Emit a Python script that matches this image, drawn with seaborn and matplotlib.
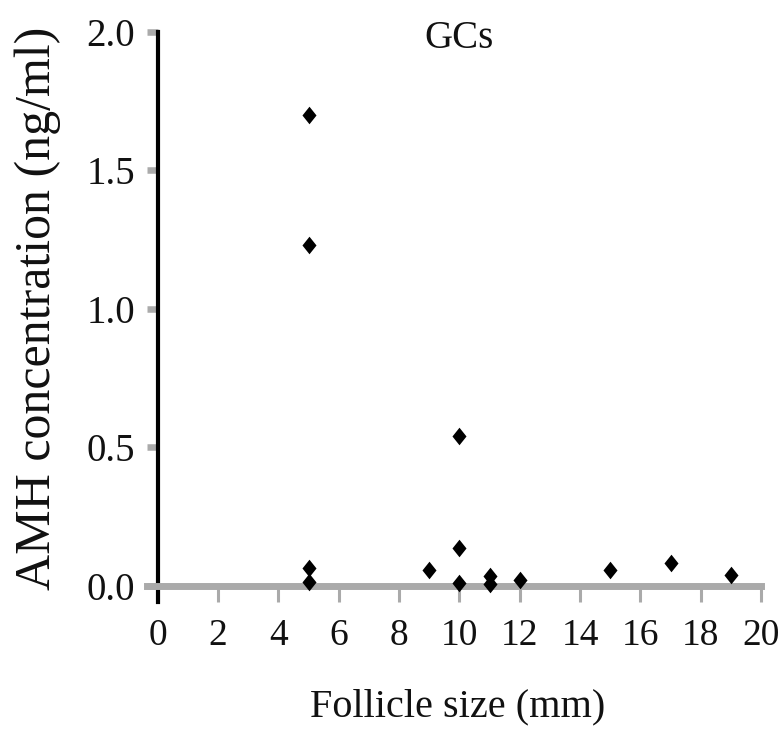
import matplotlib
matplotlib.use("Agg")
import matplotlib.pyplot as plt
import seaborn as sns
import pandas as pd

# Follicle size (mm) and AMH concentration in granulosa cells (ng/ml)
follicle_size = [5, 5, 5, 5, 9, 10, 10, 10, 11, 11, 12, 15, 17, 19]
amh_conc = [1.70, 1.23, 0.065, 0.015, 0.058, 0.54, 0.137, 0.01,
            0.035, 0.008, 0.022, 0.058, 0.083, 0.04]

x_ticks = [0, 2, 4, 6, 8, 10, 12, 14, 16, 18, 20]
y_ticks = [0.0, 0.5, 1.0, 1.5, 2.0]
y_tick_labels = ["0.0", "0.5", "1.0", "1.5", "2.0"]

panel_title = "GCs"
x_label = "Follicle size (mm)"
y_label = "AMH concentration (ng/ml)"

df = pd.DataFrame({"size": follicle_size, "amh": amh_conc})

sns.set_style("white")
plt.rcParams["font.family"] = ["Liberation Serif", "DejaVu Serif"]

fig = plt.figure(figsize=(7.81, 7.31), dpi=100)
ax = fig.add_axes([147 / 781, 1 - 602 / 731, 614 / 781, 570 / 731])

diamond = [(0, 1), (0.8, 0), (0, -1), (-0.8, 0)]
sns.scatterplot(data=df, x="size", y="amh", ax=ax, marker=diamond, s=160,
                color="black", linewidth=0, zorder=4, clip_on=False,
                legend=False)

ax.set_xlim(-0.36, 20)
ax.set_ylim(-0.058, 2.0)

grey = "#aaaaaa"
for side in ("top", "right"):
    ax.spines[side].set_visible(False)
ax.spines["left"].set_position(("data", 0))
ax.spines["left"].set_color("black")
ax.spines["left"].set_linewidth(3.0)
ax.spines["left"].set_zorder(3)
ax.spines["bottom"].set_position(("data", 0))
ax.spines["bottom"].set_color(grey)
ax.spines["bottom"].set_linewidth(5.0)
ax.spines["bottom"].set_zorder(3.5)

ax.set_xticks(x_ticks)
ax.set_xticklabels([str(v) for v in x_ticks])
ax.set_yticks(y_ticks)
ax.set_yticklabels(y_tick_labels)

ax.tick_params(axis="x", direction="out", length=11.5, width=2.2, color=grey,
               pad=12, labelsize=27, labelcolor="#111111", bottom=True)
ax.tick_params(axis="y", direction="out", length=8, width=4.7, color=grey,
               pad=8.5, labelsize=28, labelcolor="#111111", left=True)

ax.set_xlabel("")
ax.set_ylabel("")

ax.text(10, 1.942, panel_title, ha="center", va="baseline", fontsize=28,
        color="#111111")

fig.text(458 / 781, 1 - 716 / 731, x_label, ha="center", va="baseline",
         fontsize=29, color="#111111")
fig.text(50 / 781, 1 - 308 / 731, y_label, rotation=90, rotation_mode="anchor",
         ha="center", va="baseline", fontsize=36, color="#111111")

fig.savefig("out.png", dpi=100)
